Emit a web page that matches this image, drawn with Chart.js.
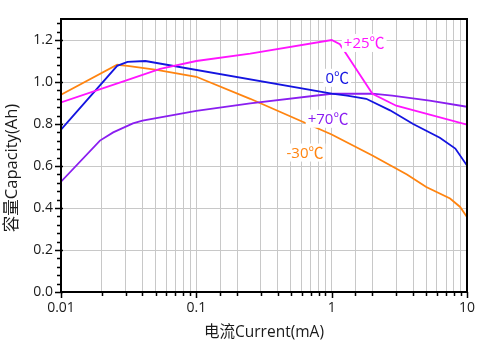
<!DOCTYPE html>
<html>
<head>
<meta charset="utf-8">
<script src="https://cdn.jsdelivr.net/npm/chart.js@4.4.1/dist/chart.umd.min.js"></script>
<style>
  html, body { margin: 0; padding: 0; background: #fff; }
  #wrap { width: 500px; height: 350px; position: relative; }
</style>
</head>
<body>
<div id="wrap"><canvas id="c"></canvas></div>
<script>
// Tick labels shown on the axes
const xTickLabels = [0.01, 0.1, 1, 10];
const yTickLabels = [0, 0.2, 0.4, 0.6, 0.8, 1.0, 1.2];

// Series names (temperature)
const seriesNames = ['+25℃', '0℃', '+70℃', '-30℃'];

// +25℃: current (mA) / capacity (Ah)
const current25  = [0.01, 0.03, 0.054, 0.1, 0.25, 1, 1.15, 2, 3, 10];
const capacity25 = [0.903, 1.007, 1.062, 1.10, 1.135, 1.20, 1.18, 0.944, 0.887, 0.797];

// 0℃
const current0  = [0.01, 0.026, 0.031, 0.042, 1, 1.3, 1.8, 2.7, 4, 6.3, 8.2, 10];
const capacity0 = [0.773, 1.077, 1.096, 1.10, 0.945, 0.935, 0.92, 0.865, 0.80, 0.735, 0.683, 0.602];

// +70℃
const current70  = [0.01, 0.0194, 0.0243, 0.034, 0.04, 0.1, 0.25, 1, 2, 2.8, 5.3, 10];
const capacity70 = [0.525, 0.721, 0.76, 0.803, 0.816, 0.863, 0.898, 0.944, 0.945, 0.935, 0.911, 0.882];

// -30℃
const currentM30  = [0.01, 0.026, 0.031, 0.051, 0.1, 0.25, 1, 2, 3.6, 5, 7.5, 8.9, 10];
const capacityM30 = [0.939, 1.082, 1.077, 1.058, 1.025, 0.92, 0.75, 0.65, 0.56, 0.50, 0.445, 0.405, 0.357];

const FONT = "'Open Sans', 'Noto Sans CJK SC', sans-serif";
const seriesColors = ['#ff14ff', '#1414e0', '#8a1ef0', '#ff8410'];

// Where each temperature label sits, in data units (current, capacity)
const labelAnchors = [
  { x: 1.74, y: 1.186 },
  { x: 1.10, y: 1.02 },
  { x: 0.94, y: 0.825 },
  { x: 0.635, y: 0.664 }
];

function toPoints(xs, ys) {
  return xs.map((x, i) => ({ x: x, y: ys[i] }));
}

const near = (a, b) => Math.abs(a - b) < 1e-6;
const isMajorY = v => yTickLabels.some(t => near(t, v));
const isMajorX = v => { const l = Math.log10(v); return Math.abs(l - Math.round(l)) < 1e-6; };

const datasets = [
  [current25, capacity25],
  [current0, capacity0],
  [current70, capacity70],
  [currentM30, capacityM30]
].map((s, i) => ({
  label: seriesNames[i],
  data: toPoints(s[0], s[1]),
  borderColor: seriesColors[i],
  backgroundColor: seriesColors[i],
  borderWidth: 1.8,
  pointRadius: 0,
  tension: 0,
  fill: false
}));

// Frame, tick marks, y-axis title and series labels
const decorations = {
  id: 'decorations',
  afterDatasetsDraw(chart) {
    const { ctx, chartArea: a } = chart;
    const xs = chart.scales.x, ys = chart.scales.y;
    ctx.save();

    // series labels with white backing
    ctx.font = '15px ' + FONT;
    ctx.textAlign = 'center';
    ctx.textBaseline = 'middle';
    labelAnchors.forEach((p, i) => {
      const px = xs.getPixelForValue(p.x), py = ys.getPixelForValue(p.y);
      const w = ctx.measureText(seriesNames[i]).width + 4;
      ctx.fillStyle = '#fff';
      ctx.fillRect(px - w / 2, py - 9, w, 18);
      ctx.fillStyle = seriesColors[i];
      ctx.fillText(seriesNames[i], px, py + 1);
    });

    // frame
    ctx.strokeStyle = '#000';
    ctx.lineWidth = 2;
    ctx.strokeRect(a.left, a.top, a.right - a.left, a.bottom - a.top);

    // tick marks
    ctx.lineWidth = 1.5;
    ctx.beginPath();
    ys.ticks.forEach(t => {
      const py = Math.round(ys.getPixelForValue(t.value)) + 0.5;
      const len = isMajorY(t.value) ? 6 : 4;
      ctx.moveTo(a.left - len, py);
      ctx.lineTo(a.left + (isMajorY(t.value) ? 2 : 0), py);
    });
    xs.ticks.forEach(t => {
      const px = Math.round(xs.getPixelForValue(t.value)) + 0.5;
      const len = isMajorX(t.value) ? 6 : 4;
      ctx.moveTo(px, a.bottom);
      ctx.lineTo(px, a.bottom + len);
    });
    ctx.stroke();

    // y-axis title
    ctx.translate(12, 168);
    ctx.rotate(-Math.PI / 2);
    ctx.fillStyle = '#1a1a1a';
    ctx.font = '16.5px ' + FONT;
    ctx.textAlign = 'center';
    ctx.textBaseline = 'middle';
    ctx.fillText('容量Capacity(Ah)', 0, 0);
    ctx.restore();
  }
};

new Chart(document.getElementById('c'), {
  type: 'line',
  data: { datasets },
  plugins: [decorations],
  options: {
    responsive: true,
    maintainAspectRatio: false,
    animation: false,
    layout: { padding: { top: 19, right: 33, left: 0, bottom: 0 } },
    plugins: { legend: { display: false }, tooltip: { enabled: false } },
    scales: {
      x: {
        type: 'logarithmic',
        min: 0.01,
        max: 10,
        afterFit: s => { s.height = 58; },
        border: { display: false },
        grid: { color: '#c8c8c8', lineWidth: 1, drawTicks: false },
        ticks: {
          autoSkip: false,
          maxRotation: 0,
          padding: 8,
          color: '#1a1a1a',
          font: { family: FONT, size: 14 },
          callback: v => { const m = xTickLabels.find(t => near(t, v)); return m !== undefined ? String(m) : ''; }
        },
        title: {
          display: true,
          text: '电流Current(mA)',
          color: '#1a1a1a',
          font: { family: FONT, size: 15.5 },
          padding: { top: 0, bottom: 8 }
        }
      },
      y: {
        type: 'linear',
        min: 0,
        max: 1.3,
        afterFit: s => { s.width = 61; },
        afterBuildTicks: s => {
          const t = [];
          for (let i = 0; i <= 32; i++) t.push({ value: Math.round(i * 4) / 100 });
          s.ticks = t;
        },
        border: { display: false },
        grid: {
          drawTicks: false,
          lineWidth: 1,
          color: c => (c.tick && isMajorY(c.tick.value)) ? '#c8c8c8' : 'rgba(0,0,0,0)'
        },
        ticks: {
          autoSkip: false,
          padding: 8,
          color: '#1a1a1a',
          font: { family: FONT, size: 14 },
          callback: v => { const m = yTickLabels.find(t => near(t, v)); return m !== undefined ? m.toFixed(1) : ''; }
        }
      }
    }
  }
});
</script>
</body>
</html>
